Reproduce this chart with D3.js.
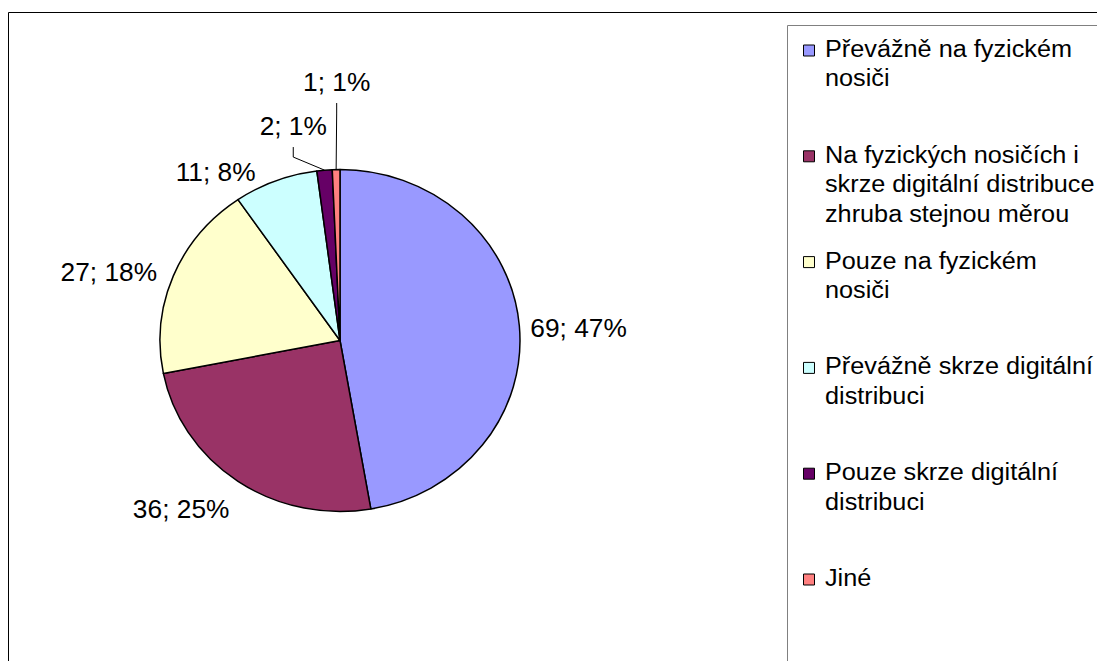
<!DOCTYPE html>
<html>
<head>
<meta charset="utf-8">
<script src="https://cdn.jsdelivr.net/npm/d3@7"></script>
<style>
  html, body { margin: 0; padding: 0; background: #fff; overflow: hidden; }
  text { font-family: "Liberation Sans", Arial, sans-serif; fill: #000; }
</style>
</head>
<body>
<svg id="chart" width="1097" height="661"></svg>
<script>
// Survey answers: how games are bought
const categories = [
  "Převážně na fyzickém nosiči",
  "Na fyzických nosičích i skrze digitální distribuce zhruba stejnou měrou",
  "Pouze na fyzickém nosiči",
  "Převážně skrze digitální distribuci",
  "Pouze skrze digitální distribuci",
  "Jiné"
];
const legendLines = [
  ["Převážně na fyzickém", "nosiči"],
  ["Na fyzických nosičích i", "skrze digitální distribuce", "zhruba stejnou měrou"],
  ["Pouze na fyzickém", "nosiči"],
  ["Převážně skrze digitální", "distribuci"],
  ["Pouze skrze digitální", "distribuci"],
  ["Jiné"]
];
const counts = [69, 36, 27, 11, 2, 1];
const colors = ["#9999FF", "#993366", "#FFFFCC", "#CCFFFF", "#660066", "#FF8080"];

// Data-label placement (degrees clockwise from 12 o'clock, distance from centre)
const labelAngles = [86.8, 221.9, 287.3, 325, 348.3, 359.3];
const labelRadii = [227, 226, 230, 206, 219, 258.5];
const leaderSlices = [4, 5];

const W = 1097, H = 661;
const SX = 180 / 171;          // the whole chart is drawn slightly widened
const X = x => x / SX;

const svg = d3.select("#chart");
const g = svg.append("g").attr("transform", `scale(${SX},1)`);

// chart frame
g.append("rect")
  .attr("x", X(8.5)).attr("y", 12.5)
  .attr("width", X(W + 50)).attr("height", H + 50)
  .attr("fill", "none").attr("stroke", "#000").attr("stroke-width", 1)
  .attr("vector-effect", "non-scaling-stroke");

// legend frame
g.append("rect")
  .attr("x", X(787.5)).attr("y", 25.5)
  .attr("width", X(W + 50)).attr("height", H + 50)
  .attr("fill", "none").attr("stroke", "#808080").attr("stroke-width", 1)
  .attr("vector-effect", "non-scaling-stroke");

// pie
const cx = X(340), cy = 340.5, R = 171;
const total = d3.sum(counts);
const pie = d3.pie().sort(null).value(d => d)(counts);
const arc = d3.arc().innerRadius(0).outerRadius(R);

const pg = g.append("g").attr("transform", `translate(${cx},${cy})`);
pg.selectAll("path.slice")
  .data(pie)
  .join("path")
  .attr("class", "slice")
  .attr("d", arc)
  .attr("fill", (d, i) => colors[i])
  .attr("stroke", "#000")
  .attr("stroke-width", 1.5)
  .attr("stroke-linejoin", "round")
  .attr("vector-effect", "non-scaling-stroke");

// data labels
const rad = a => a * Math.PI / 180;
const labelPos = pie.map((d, i) => ({
  x: Math.sin(rad(labelAngles[i])) * labelRadii[i],
  y: -Math.cos(rad(labelAngles[i])) * labelRadii[i]
}));

// leader lines for the thin slices
leaderSlices.forEach(i => {
  const d = pie[i];
  const mid = (d.startAngle + d.endAngle) / 2;
  const edge = [Math.sin(mid) * R, -Math.cos(mid) * R];
  const p = labelPos[i];
  const top = p.y + 21;
  pg.append("polyline")
    .attr("points", [[p.x, top], [p.x, top + 10], edge].map(q => q.join(",")).join(" "))
    .attr("fill", "none")
    .attr("stroke", "#000")
    .attr("stroke-width", 1)
    .attr("vector-effect", "non-scaling-stroke");
});

pg.selectAll("text.lbl")
  .data(pie)
  .join("text")
  .attr("class", "lbl")
  .attr("x", (d, i) => labelPos[i].x)
  .attr("y", (d, i) => labelPos[i].y)
  .attr("dy", "0.36em")
  .attr("text-anchor", "middle")
  .style("font-size", "25px")
  .text(d => `${d.value}; ${Math.round(d.value / total * 100)}%`);

// legend
const lg = g.append("g");
const legendTop = 57, legendStep = 105.8, lineStep = 29.5;
legendLines.forEach((lines, i) => {
  const base = legendTop + i * legendStep;
  lg.append("rect")
    .attr("x", X(803.5)).attr("y", base - 12)
    .attr("width", X(11)).attr("height", 11)
    .attr("fill", colors[i])
    .attr("stroke", "#000").attr("stroke-width", 1)
    .attr("vector-effect", "non-scaling-stroke");
  const t = lg.append("text")
    .attr("x", X(825)).attr("y", base)
    .style("font-size", "24px");
  t.append("title").text(categories[i]);
  lines.forEach((ln, j) => {
    t.append("tspan").attr("x", X(825)).attr("y", base + j * lineStep).text(ln);
  });
});
</script>
</body>
</html>
